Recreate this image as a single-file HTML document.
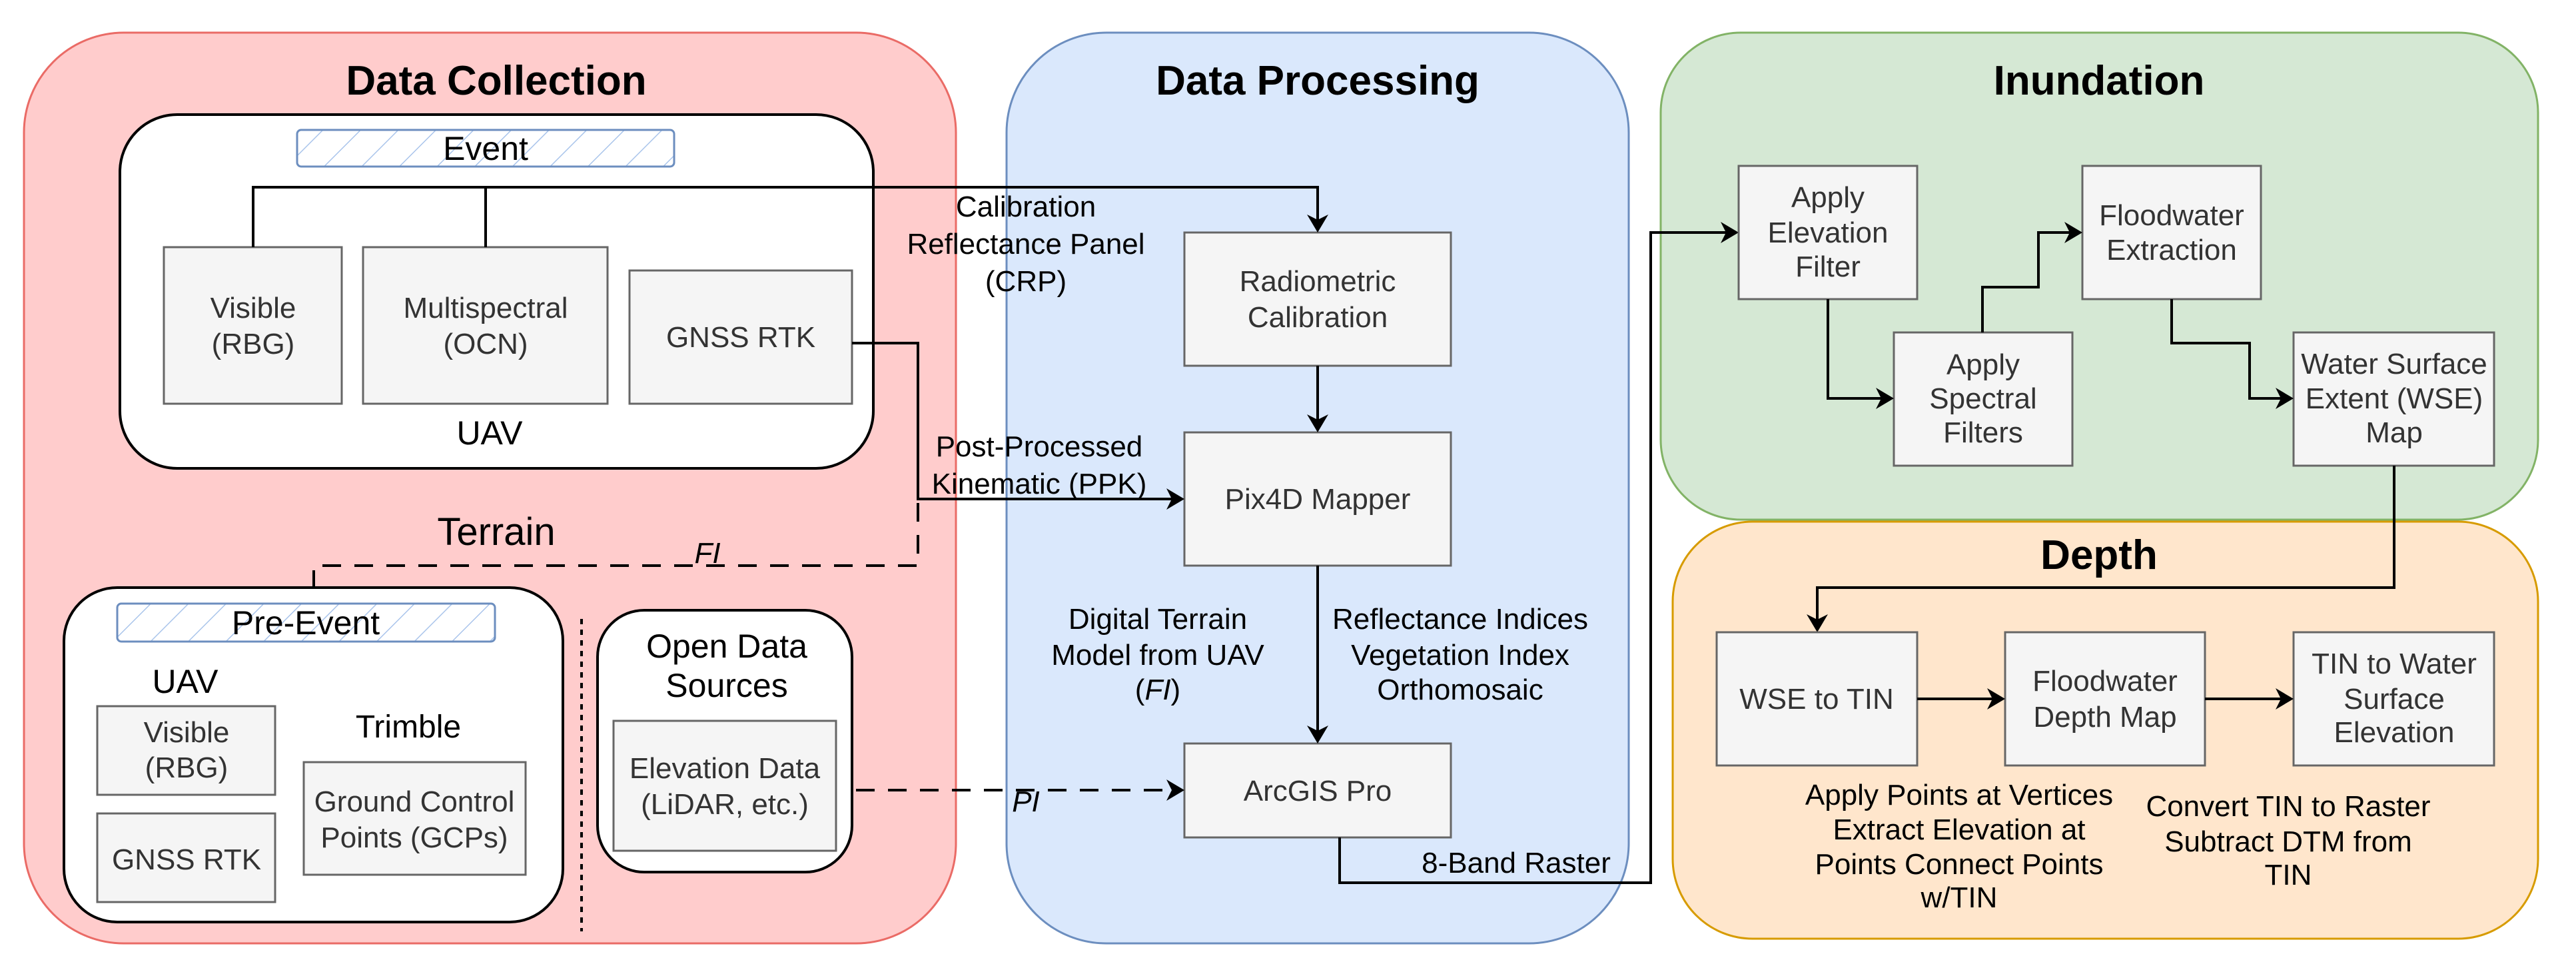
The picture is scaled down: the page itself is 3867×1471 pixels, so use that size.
<!DOCTYPE html>
<html><head><meta charset="utf-8"><style>html,body{margin:0;padding:0;background:#fff}svg{display:block}</style></head>
<body>
<svg width="3867" height="1471" viewBox="0 0 3867 1471" xmlns="http://www.w3.org/2000/svg" font-family="Liberation Sans, Arial, sans-serif">
<defs>
<marker id="ar" markerWidth="12" markerHeight="12" refX="10" refY="6" orient="auto" markerUnits="userSpaceOnUse" viewBox="0 0 12 12">
</marker>
<pattern id="hatch" width="40" height="40" patternUnits="userSpaceOnUse" patternTransform="rotate(45)">
<rect width="40" height="40" fill="#fff"/><line x1="0" y1="0" x2="0" y2="40" stroke="#a9c4eb" stroke-width="3"/>
</pattern>
</defs>
<style>
.bx{fill:#f5f5f5;stroke:#666;stroke-width:3}
.bt{font-size:44px;fill:#333;text-anchor:middle}
.lb{font-size:44px;fill:#000;text-anchor:middle}
.ti{font-size:62px;font-weight:bold;text-anchor:middle;fill:#000}
.ln{fill:none;stroke:#000;stroke-width:4}
.ds{fill:none;stroke:#000;stroke-width:4;stroke-dasharray:28 20}
</style>
<!-- containers -->
<rect x="36" y="49" width="1399" height="1367" rx="150" fill="#ffcccc" stroke="#ea6b66" stroke-width="3"/>
<rect x="1511" y="49" width="934" height="1367" rx="150" fill="#dae8fc" stroke="#6c8ebf" stroke-width="3"/>
<rect x="2511" y="783" width="1299" height="626" rx="120" fill="#ffe6cc" stroke="#d79b00" stroke-width="3"/>
<rect x="2493" y="49" width="1317" height="731" rx="120" fill="#d5e8d4" stroke="#82b366" stroke-width="3"/>
<text class="ti" x="745" y="142">Data Collection</text>
<text class="ti" x="1978" y="142">Data Processing</text>
<text class="ti" x="3151" y="142">Inundation</text>
<text class="ti" x="3151" y="854">Depth</text>

<!-- UAV event -->
<rect x="180" y="172" width="1131" height="531" rx="86" fill="#fff" stroke="#000" stroke-width="4"/>
<rect x="446" y="195" width="566" height="55" rx="6" fill="url(#hatch)" stroke="#6c8ebf" stroke-width="3"/>
<text x="729" y="240" font-size="50" text-anchor="middle">Event</text>
<rect class="bx" x="246" y="371" width="267" height="235"/>
<text class="bt" x="380" y="477">Visible</text><text class="bt" x="380" y="531">(RBG)</text>
<rect class="bx" x="545" y="371" width="367" height="235"/>
<text class="bt" x="729" y="477">Multispectral</text><text class="bt" x="729" y="531">(OCN)</text>
<rect class="bx" x="945" y="406" width="334" height="200"/>
<text class="bt" x="1112" y="521">GNSS RTK</text>
<text x="735" y="667" font-size="50" text-anchor="middle">UAV</text>
<text x="745" y="818" font-size="58" text-anchor="middle">Terrain</text>

<!-- Pre-event -->
<rect x="96" y="882" width="749" height="502" rx="80" fill="#fff" stroke="#000" stroke-width="4"/>
<rect x="176" y="906" width="567" height="57" rx="6" fill="url(#hatch)" stroke="#6c8ebf" stroke-width="3"/>
<text x="459" y="952" font-size="50" text-anchor="middle">Pre-Event</text>
<text x="278" y="1040" font-size="50" text-anchor="middle">UAV</text>
<rect class="bx" x="146" y="1060" width="267" height="133"/>
<text class="bt" x="280" y="1114">Visible</text><text class="bt" x="280" y="1167">(RBG)</text>
<rect class="bx" x="146" y="1221" width="267" height="133"/>
<text class="bt" x="280" y="1305">GNSS RTK</text>
<text x="613" y="1107" font-size="48" text-anchor="middle">Trimble</text>
<rect class="bx" x="456" y="1144" width="333" height="169"/>
<text class="bt" x="622" y="1218">Ground Control</text><text class="bt" x="622" y="1272">Points (GCPs)</text>
<line x1="873" y1="929" x2="873" y2="1398" stroke="#000" stroke-width="4" stroke-dasharray="8 8"/>
<rect x="897" y="916" width="382" height="393" rx="70" fill="#fff" stroke="#000" stroke-width="4"/>
<text x="1091" y="987" font-size="50" text-anchor="middle">Open Data</text>
<text x="1091" y="1046" font-size="50" text-anchor="middle">Sources</text>
<rect class="bx" x="921" y="1082" width="334" height="195"/>
<text class="bt" x="1088" y="1168">Elevation Data</text><text class="bt" x="1088" y="1222">(LiDAR, etc.)</text>

<!-- Data processing boxes -->
<rect class="bx" x="1778" y="349" width="400" height="200"/>
<text class="bt" x="1978" y="437">Radiometric</text><text class="bt" x="1978" y="491">Calibration</text>
<rect class="bx" x="1778" y="649" width="400" height="200"/>
<text class="bt" x="1978" y="764">Pix4D Mapper</text>
<rect class="bx" x="1778" y="1116" width="400" height="141"/>
<text class="bt" x="1978" y="1202">ArcGIS Pro</text>

<!-- connectors -->
<polyline class="ln" points="380,371 380,281 1978,281 1978,330"/>
<line class="ln" x1="729" y1="281" x2="729" y2="371"/>
<polygon points="1978,349 1962,322 1978,330 1994,322"/>
<line class="ln" x1="1978" y1="549" x2="1978" y2="630"/>
<polygon points="1978,649 1962,622 1978,630 1994,622"/>
<line class="ln" x1="1978" y1="849" x2="1978" y2="1097"/>
<polygon points="1978,1116 1962,1089 1978,1097 1994,1089"/>
<polyline class="ln" points="1279,515 1378,515 1378,749 1759,749"/>
<polygon points="1778,749 1751,733 1759,749 1751,765"/>
<polyline class="ds" points="1378,755 1378,849 471,849 471,882"/>
<polyline class="ds" points="1285,1186 1759,1186"/>
<polygon points="1778,1186 1751,1170 1759,1186 1751,1202"/>
<polyline class="ln" points="2011,1257 2011,1325 2478,1325 2478,349 2591,349"/>
<polygon points="2610,349 2583,333 2591,349 2583,365"/>

<text class="lb" x="1540" y="325">Calibration</text>
<text class="lb" x="1540" y="381">Reflectance Panel</text>
<text class="lb" x="1540" y="437">(CRP)</text>
<text class="lb" x="1560" y="685">Post-Processed</text>
<text class="lb" x="1560" y="741">Kinematic (PPK)</text>
<text class="lb" x="1062" y="845" font-style="italic">FI</text>
<text class="lb" x="1540" y="1218" font-style="italic">PI</text>
<text class="lb" x="1738" y="944">Digital Terrain</text>
<text class="lb" x="1738" y="998">Model from UAV</text>
<text class="lb" x="1738" y="1050">(<tspan font-style="italic">FI</tspan>)</text>
<text class="lb" x="2192" y="944">Reflectance Indices</text>
<text class="lb" x="2192" y="998">Vegetation Index</text>
<text class="lb" x="2192" y="1050">Orthomosaic</text>
<text class="lb" x="2276" y="1310">8-Band Raster</text>

<!-- Inundation -->
<rect class="bx" x="2610" y="249" width="268" height="200"/>
<text class="bt" x="2744" y="311">Apply</text><text class="bt" x="2744" y="364">Elevation</text><text class="bt" x="2744" y="415">Filter</text>
<rect class="bx" x="2843" y="499" width="268" height="200"/>
<text class="bt" x="2977" y="562">Apply</text><text class="bt" x="2977" y="613">Spectral</text><text class="bt" x="2977" y="664">Filters</text>
<rect class="bx" x="3126" y="249" width="268" height="200"/>
<text class="bt" x="3260" y="338">Floodwater</text><text class="bt" x="3260" y="390">Extraction</text>
<rect class="bx" x="3443" y="499" width="301" height="200"/>
<text class="bt" x="3594" y="561">Water Surface</text><text class="bt" x="3594" y="613">Extent (WSE)</text><text class="bt" x="3594" y="664">Map</text>
<polyline class="ln" points="2744,449 2744,598 2824,598"/>
<polygon points="2843,598 2816,582 2824,598 2816,614"/>
<polyline class="ln" points="2976,499 2976,431 3060,431 3060,349 3107,349"/>
<polygon points="3126,349 3099,333 3107,349 3099,365"/>
<polyline class="ln" points="3260,449 3260,515 3377,515 3377,598 3424,598"/>
<polygon points="3443,598 3416,582 3424,598 3416,614"/>
<polyline class="ln" points="3594,699 3594,882 2728,882 2728,930"/>
<polygon points="2728,949 2712,922 2728,930 2744,922"/>

<!-- Depth -->
<rect class="bx" x="2577" y="949" width="301" height="200"/>
<text class="bt" x="2727" y="1064">WSE to TIN</text>
<rect class="bx" x="3010" y="949" width="300" height="200"/>
<text class="bt" x="3160" y="1037">Floodwater</text><text class="bt" x="3160" y="1091">Depth Map</text>
<rect class="bx" x="3443" y="949" width="301" height="200"/>
<text class="bt" x="3594" y="1011">TIN to Water</text><text class="bt" x="3594" y="1064">Surface</text><text class="bt" x="3594" y="1114">Elevation</text>
<line class="ln" x1="2878" y1="1049" x2="2991" y2="1049"/>
<polygon points="3010,1049 2983,1033 2991,1049 2983,1065"/>
<line class="ln" x1="3310" y1="1049" x2="3424" y2="1049"/>
<polygon points="3443,1049 3416,1033 3424,1049 3416,1065"/>
<text class="lb" x="2941" y="1208">Apply Points at Vertices</text>
<text class="lb" x="2941" y="1260">Extract Elevation at</text>
<text class="lb" x="2941" y="1312">Points Connect Points</text>
<text class="lb" x="2941" y="1362">w/TIN</text>
<text class="lb" x="3435" y="1225">Convert TIN to Raster</text>
<text class="lb" x="3435" y="1278">Subtract DTM from</text>
<text class="lb" x="3435" y="1328">TIN</text>
</svg>
</body></html>
